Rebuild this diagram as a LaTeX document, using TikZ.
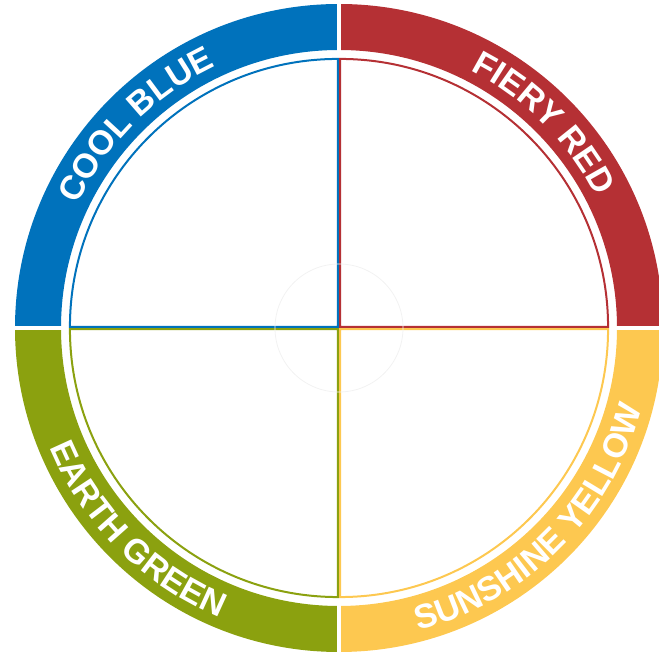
\documentclass[tikz,border=0pt]{standalone}
\usepackage{fontspec}
\setmainfont{Liberation Sans}
\usetikzlibrary{decorations.text}
\definecolor{coolblue}{RGB}{0,114,188}
\definecolor{fieryred}{RGB}{181,48,52}
\definecolor{earthgreen}{RGB}{139,161,15}
\definecolor{sunyellow}{RGB}{253,200,80}

\begin{document}
\begin{tikzpicture}[
    x=1pt, y=1pt,
    quad/.style = {line width=2pt, line join=miter},
    gap/.style = {white, line width=4pt},
    bandtext/.style = {decorate, decoration={text along path, text align=center,
                       text color=white, text={|\bfseries\fontsize{34}{40}\selectfont|#1}}}
  ]
    \useasboundingbox (0,0) rectangle (659,655);

  \begin{scope}[shift={(339,327)}]
    % Ring
    \foreach \a/\col in {90/coolblue, 0/fieryred, 180/earthgreen, 270/sunyellow}
      \fill[\col] (\a:324pt) arc[start angle=\a, end angle=\a+90, radius=324pt]
        -- (\a+90:278pt) arc[start angle=\a+90, end angle=\a, radius=278pt] -- cycle;
    \draw[gap] (-330,0) -- (330,0);
    \draw[gap] (0,-330) -- (0,330);

    % Quadrants
    \foreach \a/\col in {90/coolblue, 0/fieryred, 180/earthgreen, 270/sunyellow}{
      \begin{scope}[shift={(\a+45:1.5pt)}]
        \draw[\col, quad] (0,0) -- (\a:268pt) arc[start angle=\a, end angle=\a+90, radius=268pt] -- cycle;
      \end{scope}
    }

    % Faint centre circle
    \draw[black!5, line width=0.8pt] (0,0) circle[radius=64pt];

    % Labels
    \path[bandtext=COOL BLUE] (180:289pt) arc[start angle=180, end angle=90, radius=289pt];
    \path[bandtext=FIERY RED] (90:289pt) arc[start angle=90, end angle=0, radius=289pt];
    \path[bandtext=EARTH GREEN] (180:313pt) arc[start angle=180, end angle=270, radius=313pt];
    \path[bandtext=SUNSHINE YELLOW] (270:313pt) arc[start angle=270, end angle=360, radius=313pt];
  \end{scope}

\end{tikzpicture}
\end{document}
